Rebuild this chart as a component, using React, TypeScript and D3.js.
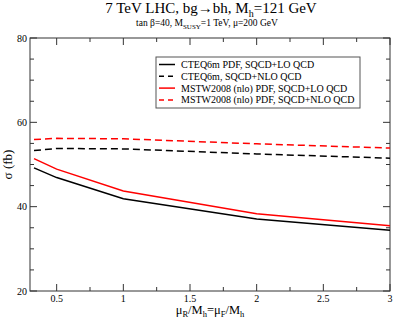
import React, { useEffect, useRef } from 'react';
import * as d3 from 'd3';

// scale factor mu_R/M_h = mu_F/M_h
const muRatio = [0.33, 0.5, 1, 2, 3];

// cross sections in fb
const cteqLO = [49.2, 46.9, 41.9, 37.1, 34.4];
const cteqNLO = [53.3, 53.8, 53.7, 52.5, 51.5];
const mstwLO = [51.4, 48.9, 43.7, 38.3, 35.5];
const mstwNLO = [55.9, 56.2, 56.1, 54.9, 53.9];

const xMajor = [0.5, 1, 1.5, 2, 2.5, 3];
const yMajor = [20, 40, 60, 80];

const series = [
  { label: 'CTEQ6m PDF, SQCD+LO QCD', values: cteqLO, color: '#000000', dash: null },
  { label: 'CTEQ6m, SQCD+NLO QCD', values: cteqNLO, color: '#000000', dash: '7,4' },
  { label: 'MSTW2008 (nlo) PDF, SQCD+LO QCD', values: mstwLO, color: '#ff0000', dash: null },
  { label: 'MSTW2008 (nlo) PDF, SQCD+NLO QCD', values: mstwNLO, color: '#ff0000', dash: '7,4' },
];

const W = 394;
const H = 322;
const FONT = '"Liberation Serif", "Times New Roman", serif';

const App = () => {
  const ref = useRef<SVGSVGElement>(null);

  useEffect(() => {
    const svg = d3.select(ref.current);
    svg.selectAll('*').remove();

    const left = 30, right = 390, top = 38, bottom = 291;
    const x = d3.scaleLinear().domain([0.3, 3]).range([left, right]);
    const y = d3.scaleLinear().domain([20, 80]).range([bottom, top]);

    svg.append('rect').attr('width', W).attr('height', H).attr('fill', '#fff');

    // titles
    const t = svg.append('text')
      .attr('x', 211).attr('y', 13)
      .attr('text-anchor', 'middle')
      .style('font-family', FONT).style('font-size', '15px');
    t.append('tspan').text('7 TeV LHC, bg\u2192bh, M');
    t.append('tspan').attr('dy', 4).style('font-size', '10px').text('h');
    t.append('tspan').attr('dy', -4).text('=121 GeV');

    const st = svg.append('text')
      .attr('x', 207).attr('y', 26)
      .attr('text-anchor', 'middle')
      .style('font-family', FONT).style('font-size', '9.5px');
    st.append('tspan').text('tan \u03b2=40, M');
    st.append('tspan').attr('dy', 2.5).style('font-size', '7px').text('SUSY');
    st.append('tspan').attr('dy', -2.5).text('=1 TeV, \u03bc=200 GeV');

    // frame
    svg.append('rect')
      .attr('x', left).attr('y', top)
      .attr('width', right - left).attr('height', bottom - top)
      .attr('fill', 'none').attr('stroke', '#333').attr('stroke-width', 1);

    const g = svg.append('g');

    // ticks on all four sides, pointing inward
    d3.range(0.5, 3.01, 0.25).forEach(v => {
      const len = Math.abs(v * 2 - Math.round(v * 2)) < 1e-6 ? 7 : 4;
      const px = x(v);
      g.append('line').attr('x1', px).attr('x2', px).attr('y1', bottom).attr('y2', bottom - len)
        .attr('stroke', '#333');
      g.append('line').attr('x1', px).attr('x2', px).attr('y1', top).attr('y2', top + len)
        .attr('stroke', '#333');
    });
    d3.range(20, 80.1, 5).forEach(v => {
      const len = v % 20 === 0 ? 7 : 4;
      const py = y(v);
      g.append('line').attr('x1', left).attr('x2', left + len).attr('y1', py).attr('y2', py)
        .attr('stroke', '#333');
      g.append('line').attr('x1', right).attr('x2', right - len).attr('y1', py).attr('y2', py)
        .attr('stroke', '#333');
    });

    g.selectAll('.xl').data(xMajor).enter().append('text')
      .attr('x', d => x(d)).attr('y', bottom + 11)
      .attr('text-anchor', 'middle')
      .style('font-family', FONT).style('font-size', '10px')
      .text(d => String(d));

    g.selectAll('.yl').data(yMajor).enter().append('text')
      .attr('x', left - 3).attr('y', d => y(d) + 3.5)
      .attr('text-anchor', 'end')
      .style('font-family', FONT).style('font-size', '10px')
      .text(d => String(d));

    // axis labels
    const xl = svg.append('text')
      .attr('x', 210).attr('y', 314)
      .attr('text-anchor', 'middle')
      .style('font-family', FONT).style('font-size', '12.5px');
    xl.append('tspan').text('\u03bc');
    xl.append('tspan').attr('dy', 3).style('font-size', '8.5px').text('R');
    xl.append('tspan').attr('dy', -3).text('/M');
    xl.append('tspan').attr('dy', 3).style('font-size', '8.5px').text('h');
    xl.append('tspan').attr('dy', -3).text('=\u03bc');
    xl.append('tspan').attr('dy', 3).style('font-size', '8.5px').text('F');
    xl.append('tspan').attr('dy', -3).text('/M');
    xl.append('tspan').attr('dy', 3).style('font-size', '8.5px').text('h');

    svg.append('text')
      .attr('transform', `translate(12, ${(top + bottom) / 2}) rotate(-90)`)
      .attr('text-anchor', 'middle')
      .style('font-family', FONT).style('font-size', '13px')
      .text('\u03c3 (fb)');

    // curves
    const line = d3.line<number>()
      .x((_, i) => x(muRatio[i]))
      .y(d => y(d));

    series.forEach(s => {
      svg.append('path')
        .datum(s.values)
        .attr('d', line)
        .attr('fill', 'none')
        .attr('stroke', s.color)
        .attr('stroke-width', 1.5)
        .attr('stroke-dasharray', s.dash);
    });

    // legend
    const lg = svg.append('g');
    lg.append('rect')
      .attr('x', 156).attr('y', 57).attr('width', 204).attr('height', 51)
      .attr('fill', '#fff').attr('stroke', '#555').attr('stroke-width', 1);
    series.forEach((s, i) => {
      const ly = 64.5 + i * 11.8;
      lg.append('line')
        .attr('x1', 159).attr('x2', 175).attr('y1', ly).attr('y2', ly)
        .attr('stroke', s.color).attr('stroke-width', 1.5)
        .attr('stroke-dasharray', s.dash ? '5,4' : null);
      lg.append('text')
        .attr('x', 181).attr('y', ly + 3.5)
        .style('font-family', FONT).style('font-size', '10px')
        .text(s.label);
    });
  }, []);

  return (
    <svg ref={ref} width={W} height={H} style={{ position: 'absolute', left: 0, top: 0 }}></svg>
  );
};

export default App;
